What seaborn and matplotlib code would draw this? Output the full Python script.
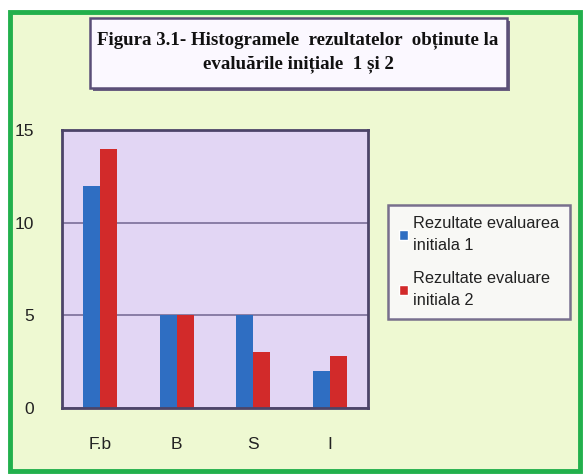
import numpy as np
import pandas as pd
import seaborn as sns
import matplotlib.pyplot as plt
from matplotlib.patches import Rectangle, Patch

categories = ['F.b', 'B', 'S', 'I']
eval1 = [12, 5, 5, 2]
eval2 = [14, 5, 3, 2.8]
series = ['Rezultate evaluarea\ninitiala 1', 'Rezultate evaluare\ninitiala 2']
yticks = [0, 5, 10, 15]

df = pd.DataFrame({
    'cat': categories * 2,
    'val': eval1 + eval2,
    'serie': [series[0]] * 4 + [series[1]] * 4,
})

sns.set_style('white')
plt.rcParams['font.family'] = ['Liberation Sans', 'DejaVu Sans']

fig = plt.figure(figsize=(5.84, 4.74), dpi=100)
fig.patch.set_facecolor('white')

W, H = 584, 474
def fx(x): return x / W
def fy(y): return 1 - y / H

# outer green frame with light yellow-green fill
fig.patches.append(Rectangle((fx(10), fy(471)), fx(570), 459 / H, transform=fig.transFigure,
                             facecolor='#eef9d2', edgecolor='#22b04c', linewidth=3.5, zorder=-5))

# title box (shadow + box)
fig.patches.append(Rectangle((fx(93), fy(91)), fx(417), 70 / H, transform=fig.transFigure,
                             facecolor='#6a6080', edgecolor='none', zorder=1))
fig.patches.append(Rectangle((fx(90), fy(88)), fx(417), 70 / H, transform=fig.transFigure,
                             facecolor='#fbf8ff', edgecolor='#5a4e78', linewidth=1.8, zorder=2))
fig.text(fx(298), fy(52), 'Figura 3.1- Histogramele  rezultatelor  obținute la\nevaluările inițiale  1 și 2',
         ha='center', va='center', fontsize=13.6, fontweight='bold', linespacing=1.45,
         family=['Liberation Serif', 'DejaVu Serif'], color='#111111', zorder=3)

# plot area
ax = fig.add_axes([fx(62), fy(408), fx(306), 278 / H])
ax.set_zorder(5)
ax.set_facecolor('#e2d6f4')
sns.barplot(data=df, x='cat', y='val', hue='serie', order=categories,
            palette=['#2f6ec2', '#d22a2a'], width=0.45, gap=0, saturation=1,
            linewidth=0, ax=ax, legend=False)
ax.set_ylim(0, 15)
ax.set_xlim(-0.5, 3.5)
ax.set_yticks(yticks)
ax.set_yticklabels([str(t) for t in yticks])
ax.yaxis.grid(True, color='#7a6e98', linewidth=1.2)
ax.set_axisbelow(True)
ax.set_xlabel('')
ax.set_ylabel('')
for s in ax.spines.values():
    s.set_visible(True)
    s.set_color('#4c4468')
    s.set_linewidth(2)
ax.tick_params(axis='y', length=0, pad=20, labelsize=12.5, colors='#222222')
ax.tick_params(axis='x', length=0, pad=21, labelsize=12.5, colors='#222222')

# legend
handles = [Patch(facecolor='#2f6ec2'), Patch(facecolor='#d22a2a')]
leg = fig.legend(handles, series, loc='upper left', bbox_to_anchor=(fx(388), fy(205)),
                 frameon=True, fontsize=11.8, handlelength=0.55, handleheight=0.55,
                 handletextpad=0.25, labelspacing=1.1, borderpad=0.7, fancybox=False,
                 borderaxespad=0)
for t in leg.get_texts():
    t.set_linespacing(1.55)
    t.set_color('#222222')
leg.get_frame().set_edgecolor('#5a4e78')
leg.get_frame().set_linewidth(1.8)
leg.get_frame().set_facecolor('#fbf8ff')
leg.set_zorder(6)

fig.savefig('out.png', dpi=100)
